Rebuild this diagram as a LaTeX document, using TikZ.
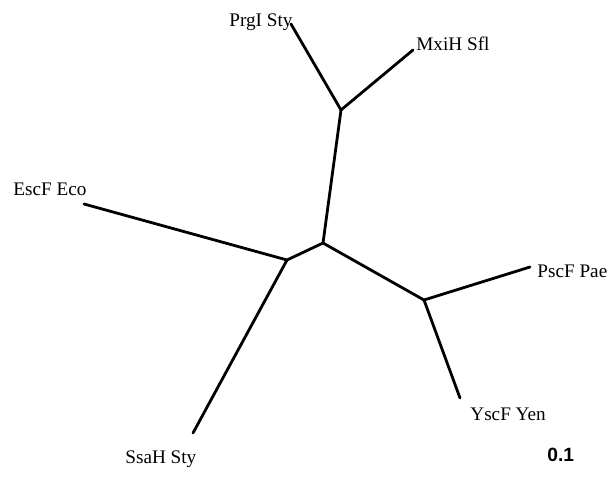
\documentclass[tikz,border=0pt]{standalone}
\usepackage{fontspec}
\setmainfont{Liberation Serif}
\newfontfamily\barfont{Liberation Sans}
\begin{document}
\begin{tikzpicture}[x=0.5pt,y=-0.5pt,
  branch/.style={line width=1.4pt, line cap=round, line join=round},
  leaf/.style={font=\fontsize{9.6}{11}\selectfont, inner sep=0pt, anchor=base west}]
\useasboundingbox (0,0) rectangle (610,481);

% inner nodes of the tree
\coordinate (ntop) at (341,110);
\coordinate (nmid) at (323,243);
\coordinate (nleft) at (287,260);
\coordinate (nright) at (424,300);

% leaf ends
\coordinate (tprg) at (291,24);
\coordinate (tmxi) at (413,50);
\coordinate (tesc) at (84,204);
\coordinate (tssa) at (193,433);
\coordinate (tpsc) at (530,267);
\coordinate (tysc) at (460,398);

\draw[branch] (ntop) -- (tprg);
\draw[branch] (ntop) -- (tmxi);
\draw[branch] (ntop) -- (nmid);
\draw[branch] (nmid) -- (nleft);
\draw[branch] (nmid) -- (nright);
\draw[branch] (nleft) -- (tesc);
\draw[branch] (nleft) -- (tssa);
\draw[branch] (nright) -- (tpsc);
\draw[branch] (nright) -- (tysc);

\node[leaf] (lprg) at (229,27) {PrgI Sty};
\node[leaf] (lmxi) at (416,51) {MxiH Sfl};
\node[leaf] (lesc) at (13,195) {EscF Eco};
\node[leaf] (lssa) at (125,463) {SsaH Sty};
\node[leaf] (lpsc) at (537,277) {PscF Pae};
\node[leaf] (lysc) at (470,420) {YscF Yen};
\node[leaf, font=\barfont\bfseries\fontsize{9.6}{11}\selectfont] (lbar) at (547,461) {0.1};
\end{tikzpicture}
\end{document}
